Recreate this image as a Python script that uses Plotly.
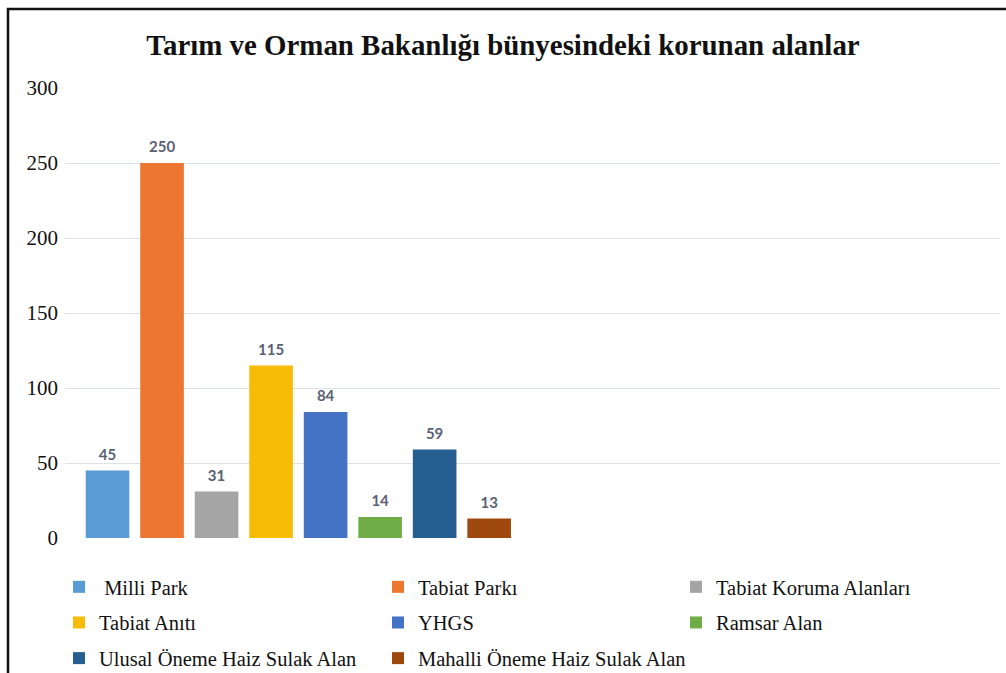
import plotly.graph_objects as go

categories = ["Milli Park", "Tabiat Parkı", "Tabiat Koruma Alanları", "Tabiat Anıtı",
              "YHGS", "Ramsar Alan", "Ulusal Öneme Haiz Sulak Alan", "Mahalli Öneme Haiz Sulak Alan"]
values = [45, 250, 31, 115, 84, 14, 59, 13]
colors = ["#5B9BD5", "#ED7630", "#A5A5A5", "#F7BD06", "#4472C4", "#70AD47", "#255E91", "#9E480E"]
legend_names = [" Milli Park", "Tabiat Parkı", "Tabiat Koruma Alanları", "Tabiat Anıtı",
                "YHGS", "Ramsar Alan", "Ulusal Öneme Haiz Sulak Alan", "Mahalli Öneme Haiz Sulak Alan"]
legend_of = ["legend", "legend2", "legend3", "legend", "legend2", "legend3", "legend", "legend2"]
y_ticks = [0, 50, 100, 150, 200, 250, 300]

W, H = 1006, 673
ML, MR, MT, MB = 65, 6, 88, 135
PW = W - ML - MR
PH = H - MT - MB

fig = go.Figure()
for i, (c, v, col) in enumerate(zip(categories, values, colors)):
    fig.add_trace(go.Bar(
        x=[c], y=[v], name=legend_names[i], marker=dict(color=col, line=dict(width=0)),
        width=0.8, legend=legend_of[i], legendgroup=c, hoverinfo="x+y"))

fig.add_trace(go.Scatter(
    x=categories, y=values, mode="markers+text", text=[str(v) for v in values],
    textposition="top center", marker=dict(size=10, opacity=0),
    textfont=dict(family="Lato", size=15, color="#5A6173", weight="bold"),
    showlegend=False, hoverinfo="skip"))

def px_x(px):
    return (px - ML) / PW

def px_y(py):
    return (H - MB - py) / PH

legend_common = dict(
    orientation="v", xanchor="left", yanchor="top",
    font=dict(family="Liberation Serif", size=20.5, color="#111111"),
    bgcolor="rgba(0,0,0,0)", traceorder="grouped", tracegroupgap=6,
    itemclick=False, itemdoubleclick=False)

fig.update_layout(
    width=W, height=H,
    margin=dict(l=ML, r=MR, t=MT, b=MB, autoexpand=False),
    paper_bgcolor="white", plot_bgcolor="white",
    barmode="overlay",
    title=dict(text="<b>Tarım ve Orman Bakanlığı bünyesindeki korunan alanlar</b>",
               x=0.5, xref="container", xanchor="center", y=1 - 45 / H, yanchor="middle",
               font=dict(family="Liberation Serif", size=28.9, color="#111111")),
    xaxis=dict(type="category", categoryorder="array", categoryarray=categories,
               range=[-0.78, 16.37], showticklabels=False, showgrid=False,
               zeroline=False, showline=False, ticks=""),
    yaxis=dict(range=[0, 300], tickvals=y_ticks, showgrid=True, gridcolor="#DDE2EA",
               gridwidth=1.3, zeroline=False, showline=False, ticks="",
               ticklabelstandoff=6,
               tickfont=dict(family="Liberation Serif", size=21, color="#111111")),
    legend=dict(x=px_x(59), y=px_y(567), **legend_common),
    legend2=dict(x=px_x(378), y=px_y(567), **legend_common),
    legend3=dict(x=px_x(676), y=px_y(567), **legend_common),
    shapes=[dict(type="rect", xref="paper", yref="paper",
                 x0=px_x(8), x1=px_x(1014), y0=px_y(684), y1=px_y(9),
                 line=dict(color="#111111", width=2.5), layer="above")],
    showlegend=True,
)

fig.write_html("out.html", config={"displayModeBar": False},
               post_script="document.body.style.margin='0';document.body.style.overflow='hidden';")
